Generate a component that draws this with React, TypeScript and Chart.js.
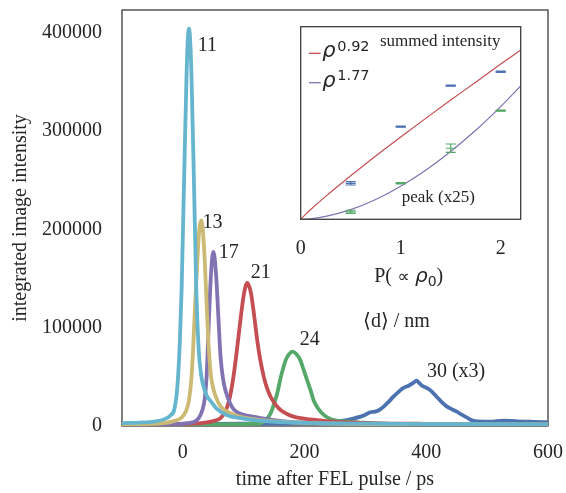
import React, { useEffect, useRef } from 'react';
import { Chart, registerables } from 'chart.js';

Chart.register(...registerables);

const SERIF = '"Liberation Serif", "DejaVu Serif", "Times New Roman", serif';
const SANS = '"DejaVu Sans", "Noto Sans", sans-serif';
const TEXT = '#262626';
const FRAME = '#3c3c3c';

// ---------------- main chart data ----------------
const xTicks = [0, 200, 400, 600];
const yTicks = [0, 100000, 200000, 300000, 400000];

const t11 = [-100, -70, -47, -30, -20, -14, -9, -5, -2, 2, 6, 8, 10, 12, 14, 18, 22, 26, 30, 34, 40, 46, 55, 73, 95, 117, 172, 250, 400, 500, 600];
const v11 = [3000, 3500, 4500, 7000, 11000, 17000, 40000, 85000, 140000, 250000, 355000, 392000, 404000, 393000, 360000, 255000, 140000, 78000, 52000, 40000, 30000, 25000, 18000, 11000, 8000, 6000, 3600, 2600, 2000, 1800, 1700];

const t13 = [-100, -60, -31, -15, -3, 5, 10, 14, 17, 20, 24, 27, 30, 33, 36, 39, 42, 46, 50, 56, 62, 75, 90, 110, 128, 172, 250, 400, 600];
const v13 = [1500, 2000, 3000, 5000, 8000, 15000, 26000, 48000, 80000, 122000, 170000, 200000, 209000, 198000, 168000, 125000, 85000, 52000, 38000, 27000, 20000, 14000, 10000, 7500, 6000, 4000, 2500, 1800, 1500];

const t17 = [-100, -30, 0, 18, 26, 32, 36, 39, 42, 45, 48, 50, 52, 55, 58, 62, 66, 70, 77, 84, 100, 115, 128, 150, 172, 220, 300, 600];
const v17 = [1500, 2000, 2500, 4000, 8000, 16000, 28000, 50000, 95000, 140000, 170000, 177000, 172000, 150000, 115000, 70000, 48000, 36000, 24000, 16500, 11500, 9500, 8000, 6000, 4500, 3000, 2200, 1800];

const t21 = [-100, 0, 30, 50, 62, 70, 76, 80, 84, 88, 92, 96, 100, 103, 106, 109, 112, 116, 122, 127, 133, 138, 144, 152, 161, 172, 182, 193, 220, 248, 303, 400, 600];
const v21 = [2000, 2200, 3000, 5000, 8000, 15000, 26000, 38000, 54000, 73000, 94000, 115000, 133000, 142000, 145500, 142000, 135000, 118000, 88000, 68000, 50000, 39000, 30000, 22000, 16000, 12000, 9500, 8000, 6000, 4400, 3000, 2200, 1800];

const t24 = [-100, 50, 100, 128, 139, 145, 150, 155, 161, 165, 169, 174, 180, 186, 193, 198, 204, 210, 215, 222, 232, 240, 248, 281, 330, 400, 600];
const v24 = [1500, 1500, 2000, 3000, 8000, 14000, 23000, 33000, 50000, 59000, 67000, 72500, 75600, 73500, 67000, 58000, 47000, 36000, 26000, 18000, 11000, 8000, 6000, 4000, 2500, 2000, 1700];

const t30 = [-100, 0, 100, 200, 243, 264, 280, 292, 300, 308, 316, 322, 330, 338, 346, 354, 363, 371, 378, 384, 388, 393, 398, 404, 410, 417, 425, 434, 442, 450, 458, 467, 475, 485, 505, 527, 549, 570, 598];
const v30 = [2000, 2000, 2300, 3000, 4200, 5500, 7500, 9500, 11500, 14000, 14500, 16000, 19700, 24500, 29800, 34500, 39000, 41000, 43500, 46100, 44000, 41000, 39500, 37600, 34500, 29800, 24500, 19700, 17000, 14600, 11500, 8500, 5800, 4600, 4400, 5500, 4800, 4400, 3800];

const seriesNames = ['11', '13', '17', '21', '24', '30 (x3)'];
const seriesT = [t11, t13, t17, t21, t24, t30];
const seriesV = [v11, v13, v17, v21, v24, v30];
const seriesColors = ['#64B5CD', '#CCB974', '#8172B2', '#C44E52', '#55A868', '#4C72B0'];

// curve labels, anchored in data units (time, intensity)
const labelT = [24.6, 32.3, 59, 111.5, 192, 401];
const labelV = [386500, 206500, 176000, 155600, 87500, 55200];

// ---------------- inset data ----------------
const insetTicks = [0, 1, 2];
const pFit = [0, 0.05, 0.1, 0.25, 0.5, 0.75, 1, 1.25, 1.5, 1.75, 2, 2.2];
const fitSummed = [0, 0.027, 0.051, 0.119, 0.226, 0.329, 0.427, 0.524, 0.619, 0.712, 0.806, 0.879];
const fitPeak = [0, 0.0008, 0.003, 0.015, 0.05, 0.103, 0.172, 0.255, 0.352, 0.462, 0.585, 0.692];

const pPts = [0.5, 1, 1.5, 2];
const summedPts = [0.187, 0.481, 0.694, 0.766];
const summedErr = [0.009, 0.003, 0.003, 0.003];
const peakPts = [0.039, 0.187, 0.369, 0.564];
const peakErr = [0.008, 0.003, 0.022, 0.003];

const zip = (xs: number[], ys: number[]) => xs.map((x, i) => ({ x, y: ys[i] }));

const mainDecor = {
  id: 'mainDecor',
  beforeDatasetsDraw(chart: any) {
    const { ctx, chartArea: a } = chart;
    ctx.save();
    ctx.strokeStyle = FRAME;
    ctx.lineWidth = 1.3;
    ctx.strokeRect(a.left, a.top, a.right - a.left, a.bottom - a.top);
    ctx.restore();
  },
  afterDatasetsDraw(chart: any) {
    const { ctx } = chart;
    const x = chart.scales.x;
    const y = chart.scales.y;
    ctx.save();
    ctx.fillStyle = TEXT;
    ctx.font = `20px ${SERIF}`;
    ctx.textBaseline = 'middle';
    ctx.textAlign = 'left';
    seriesNames.forEach((name, i) => {
      ctx.fillText(name, x.getPixelForValue(labelT[i]), y.getPixelForValue(labelV[i]));
    });
    ctx.textAlign = 'center';
    ctx.fillText('\u27E8d\u27E9 / nm', x.getPixelForValue(351), y.getPixelForValue(105800));
    ctx.restore();
  },
};

const insetDecor = {
  id: 'insetDecor',
  afterDatasetsDraw(chart: any) {
    const { ctx, chartArea: a } = chart;
    const x = chart.scales.x;
    const y = chart.scales.y;
    ctx.save();
    // frame
    ctx.strokeStyle = FRAME;
    ctx.lineWidth = 1.3;
    ctx.strokeRect(a.left, a.top, a.right - a.left, a.bottom - a.top);
    // error bars
    const bars = (vals: number[], errs: number[], color: string) => {
      ctx.strokeStyle = color;
      ctx.lineWidth = 1.2;
      vals.forEach((v, i) => {
        const px = x.getPixelForValue(pPts[i]);
        const y1 = y.getPixelForValue(v - errs[i]);
        const y2 = y.getPixelForValue(v + errs[i]);
        ctx.beginPath();
        ctx.moveTo(px, y1);
        ctx.lineTo(px, y2);
        ctx.moveTo(px - 5, y1);
        ctx.lineTo(px + 5, y1);
        ctx.moveTo(px - 5, y2);
        ctx.lineTo(px + 5, y2);
        ctx.stroke();
      });
    };
    bars(summedPts, summedErr, '#4C72B0');
    bars(peakPts, peakErr, '#55A868');

    // legend
    const legend = [
      { color: '#C44E52', exp: '0.92', dy: 26.6 },
      { color: '#8172B2', exp: '1.77', dy: 56 },
    ];
    legend.forEach((l) => {
      const ly = a.top + l.dy;
      ctx.strokeStyle = l.color;
      ctx.lineWidth = 1.3;
      ctx.beginPath();
      ctx.moveTo(a.left + 8.3, ly);
      ctx.lineTo(a.left + 20, ly);
      ctx.stroke();
      ctx.fillStyle = TEXT;
      ctx.textAlign = 'left';
      ctx.textBaseline = 'alphabetic';
      ctx.font = `oblique 21px ${SANS}`;
      ctx.fillText('\u03C1', a.left + 21.5, ly + 4);
      ctx.font = `14.5px ${SANS}`;
      ctx.fillText(l.exp, a.left + 36.6, ly - 2.6);
    });

    ctx.fillStyle = TEXT;
    ctx.font = `17px ${SERIF}`;
    ctx.textAlign = 'left';
    ctx.textBaseline = 'alphabetic';
    ctx.fillText('summed intensity', a.left + 79.3, a.top + 19.3);
    ctx.fillText('peak (x25)', a.left + 101, a.top + 175.6);

    // x-axis title  P( ∝ ρ0 )
    const parts = [
      { t: 'P(', f: `20px ${SERIF}`, dy: 0 },
      { t: ' \u221D ', f: `17px ${SANS}`, dy: 0 },
      { t: '\u03C1', f: `oblique 20px ${SANS}`, dy: 0 },
      { t: '0', f: `14px ${SANS}`, dy: 4 },
      { t: ')', f: `20px ${SERIF}`, dy: 0 },
    ];
    let total = 0;
    const widths = parts.map((p) => {
      ctx.font = p.f;
      const w = ctx.measureText(p.t).width;
      total += w;
      return w;
    });
    const cx = (a.left + a.right) / 2 - 2;
    let px = cx - total / 2;
    const base = a.bottom + 62.2;
    parts.forEach((p, i) => {
      ctx.font = p.f;
      ctx.fillText(p.t, px, base + p.dy);
      px += widths[i];
    });
    ctx.restore();
  },
};

export default function App() {
  const mainRef = useRef<HTMLCanvasElement | null>(null);
  const insetRef = useRef<HTMLCanvasElement | null>(null);

  useEffect(() => {
    const tickFont = { family: SERIF, size: 20 };
    const main = new Chart(mainRef.current as HTMLCanvasElement, {
      type: 'line',
      data: {
        datasets: seriesNames.map((name, i) => ({
          label: name,
          data: zip(seriesT[i], seriesV[i]),
          borderColor: seriesColors[i],
          backgroundColor: seriesColors[i],
          borderWidth: 3.8,
          pointRadius: 0,
          fill: false,
          cubicInterpolationMode: 'monotone' as const,
          borderJoinStyle: 'round' as const,
          borderCapStyle: 'round' as const,
        })),
      },
      options: {
        animation: false,
        responsive: false,
        maintainAspectRatio: false,
        layout: { padding: { left: 0, top: 10, right: 18, bottom: 0 } },
        plugins: { legend: { display: false }, tooltip: { enabled: false } },
        scales: {
          x: {
            type: 'linear',
            min: -100,
            max: 600,
            afterBuildTicks: (s: any) => {
              s.ticks = xTicks.map((v) => ({ value: v }));
            },
            afterFit: (s: any) => {
              s.height = 67;
              s.paddingLeft = 0;
              s.paddingRight = 0;
            },
            grid: { display: false, drawTicks: false },
            border: { display: false },
            ticks: { font: tickFont, color: TEXT, padding: 15, maxRotation: 0, callback: (v: any) => String(v) },
            title: { display: true, text: 'time after FEL pulse / ps', font: tickFont, color: TEXT, padding: { top: 0, bottom: 1 } },
          },
          y: {
            type: 'linear',
            min: 0,
            max: 423000,
            afterBuildTicks: (s: any) => {
              s.ticks = yTicks.map((v) => ({ value: v }));
            },
            afterFit: (s: any) => {
              s.width = 122;
              s.paddingTop = 0;
              s.paddingBottom = 0;
            },
            grid: { display: false, drawTicks: false },
            border: { display: false },
            ticks: { font: tickFont, color: TEXT, padding: 20, callback: (v: any) => String(v) },
            title: { display: true, text: 'integrated image intensity', font: tickFont, color: TEXT, padding: { top: 9, bottom: 0 } },
          },
        },
      },
      plugins: [mainDecor],
    });

    const inset = new Chart(insetRef.current as HTMLCanvasElement, {
      type: 'line',
      data: {
        datasets: [
          {
            label: 'summed',
            data: zip(pPts, summedPts),
            showLine: false,
            pointStyle: 'line',
            pointRadius: 5,
            borderWidth: 1.2,
            borderColor: '#4C72B0',
            backgroundColor: '#4C72B0',
          },
          {
            label: 'peak',
            data: zip(pPts, peakPts),
            showLine: false,
            pointStyle: 'line',
            pointRadius: 5,
            borderWidth: 1.2,
            borderColor: '#55A868',
            backgroundColor: '#55A868',
          },
          {
            label: 'rho^0.92',
            data: zip(pFit, fitSummed),
            borderColor: '#C44E52',
            borderWidth: 1.2,
            pointRadius: 0,
            cubicInterpolationMode: 'monotone' as const,
          },
          {
            label: 'rho^1.77',
            data: zip(pFit, fitPeak),
            borderColor: '#8172B2',
            borderWidth: 1.2,
            pointRadius: 0,
            cubicInterpolationMode: 'monotone' as const,
          },
        ],
      },
      options: {
        animation: false,
        responsive: false,
        maintainAspectRatio: false,
        layout: { padding: { left: 20.7, right: 19.3, top: 10.7, bottom: 0 } },
        plugins: { legend: { display: false }, tooltip: { enabled: false } },
        scales: {
          x: {
            type: 'linear',
            min: 0,
            max: 2.2,
            afterBuildTicks: (s: any) => {
              s.ticks = insetTicks.map((v) => ({ value: v }));
            },
            afterFit: (s: any) => {
              s.height = 76.7;
              s.paddingLeft = 0;
              s.paddingRight = 0;
            },
            grid: { display: false, drawTicks: false },
            border: { display: false },
            ticks: { font: tickFont, color: TEXT, padding: 17, maxRotation: 0, callback: (v: any) => String(v) },
          },
          y: { type: 'linear', display: false, min: 0, max: 1 },
        },
      },
      plugins: [insetDecor],
    });

    return () => {
      main.destroy();
      inset.destroy();
    };
  }, []);

  return (
    <div style={{ position: 'fixed', left: 0, top: 0, width: 566, height: 493, background: '#ffffff' }}>
      <canvas ref={mainRef} width={566} height={493} style={{ position: 'absolute', left: 0, top: 0, width: 566, height: 493 }} />
      <canvas ref={insetRef} width={260} height={280} style={{ position: 'absolute', left: 280, top: 16, width: 260, height: 280 }} />
    </div>
  );
}
